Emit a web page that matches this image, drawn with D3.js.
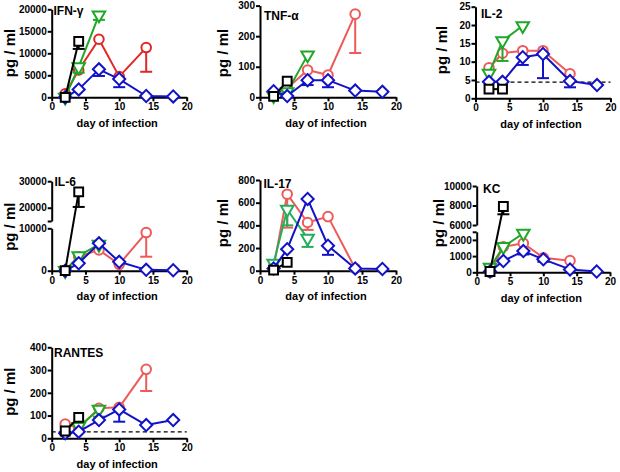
<!DOCTYPE html>
<html><head><meta charset="utf-8">
<script src="https://cdn.jsdelivr.net/npm/d3@7"></script>
<style>
body{margin:0;background:#fff;}
svg{display:block;font-family:Arial,"Liberation Sans",sans-serif;}
</style></head><body>
<svg id="chart" width="620" height="472"></svg>
<script>
// ---------- data ----------
const days = [2, 4, 7, 10, 14, 18];
const xTickValues = [0, 5, 10, 15, 20];
const xLabel = "day of infection";
const yLabel = "pg / ml";
const panelTitles = ["IFN-γ", "TNF-α", "IL-2", "IL-6", "IL-17", "KC", "RANTES"];

// IFN-γ
const ifnRed = [800, 6200, 13200, 4700, 11300, null];
const ifnRedLow = [null, null, null, null, 5800, null];
const ifnGreen = [0, 6900, 18700, null, null, null];
const ifnGreenLow = [null, 5600, 17600, null, null, null];
const ifnBlue = [0, 1800, 6350, 4150, 300, 200];
const ifnBlueLow = [null, null, 4850, 2300, null, null];
const ifnBlack = [0, 12700, null, null, null, null];
const ifnBlackLow = [null, 11000, null, null, null, null];
const ifnTicks = [0, 5000, 10000, 15000, 20000];

// TNF-α
const tnfRed = [10, 30, 89, 73, 272, null];
const tnfRedLow = [null, null, null, null, 145, null];
const tnfGreen = [5, 18, 138, null, null, null];
const tnfGreenLow = [null, null, null, null, null, null];
const tnfBlue = [20, 4, 56, 56, 22, 18];
const tnfBlueLow = [null, null, 40, 33, null, null];
const tnfBlack = [3, 53, null, null, null, null];
const tnfBlackLow = [null, null, null, null, null, null];
const tnfTicks = [0, 100, 200, 300];

// IL-2
const il2Red = [8.3, 12.3, 13, 13, 6.7, null];
const il2RedLow = [null, null, null, null, null, null];
const il2Green = [6.8, 15.7, 19.8, null, null, null];
const il2GreenLow = [null, 10.2, null, null, null, null];
const il2Blue = [4.5, 4.5, 11.2, 12.1, 4.7, 3.6];
const il2BlueLow = [null, null, 9.1, 5.5, 3.0, null];
const il2Black = [2.5, 2.5, null, null, null, null];
const il2BlackLow = [null, null, null, null, null, null];
const il2Ticks = [0, 5, 10, 15, 20, 25];
const il2Detection = 4.4;

// IL-6 (broken axis)
const il6Red = [0, 3300, 4900, 1500, 9000, null];
const il6RedLow = [null, null, null, null, 3300, null];
const il6Green = [0, 3500, 6200, null, null, null];
const il6GreenLow = [null, null, null, null, null, null];
const il6Blue = [0, 1750, 6450, 2100, 200, 100];
const il6BlueLow = [null, null, null, null, null, null];
const il6Black = [0, 26000, null, null, null, null];
const il6BlackLow = [null, 20300, null, null, null, null];
const il6TicksLow = [0, 10000];
const il6TicksHigh = [15000, 20000, 30000];
const il6BreakMarks = [15000];

// IL-17
const il17Red = [30, 675, 425, 477, 20, null];
const il17RedLow = [null, 380, 360, null, null, null];
const il17Green = [65, 540, 285, null, null, null];
const il17GreenLow = [null, 400, 210, null, null, null];
const il17Blue = [20, 190, 633, 220, 20, 15];
const il17BlueLow = [null, null, null, 140, null, null];
const il17Black = [5, 74, null, null, null, null];
const il17BlackLow = [null, null, null, null, null, null];
const il17Ticks = [0, 200, 400, 600, 800];

// KC (broken axis)
const kcRed = [0, 1580, 1790, 900, 720, null];
const kcRedLow = [null, null, null, null, null, null];
const kcGreen = [300, 1580, 2400, null, null, null];
const kcGreenLow = [null, null, null, null, null, null];
const kcBlue = [50, 700, 1310, 800, 180, 50];
const kcBlueLow = [null, null, 1100, 650, null, null];
const kcBlack = [50, 7900, null, null, null, null];
const kcBlackLow = [null, 7100, null, null, null, null];
const kcTicksLow = [0, 1000, 2000, 2500];
const kcTicksHigh = [6000, 8000, 10000];
const kcBreakMarks = [2500];

// RANTES
const rantesRed = [63, 45, 132, 136, 303, null];
const rantesRedLow = [null, null, null, null, 208, null];
const rantesGreen = [null, 51, 127, null, null, null];
const rantesGreenLow = [null, null, 95, null, null, null];
const rantesBlue = [22, 29, 80, 127, 58, 80];
const rantesBlueLow = [null, null, null, 73, null, null];
const rantesBlack = [32, 92, null, null, null, null];
const rantesBlackLow = [null, null, null, null, null, null];
const rantesTicks = [0, 100, 200, 300, 400];
const rantesDetection = 28;

// ---------- styles / layout ----------
const RED_DARK = "#e02828", RED = "#ee5a5a", GREEN = "#1fa828", GREEN2 = "#22ae5a", BLUE = "#1212c8", BLACK = "#000";
const shapes = {
  circle: d3.symbol().type(d3.symbolCircle).size(72),
  square: d3.symbol().type(d3.symbolSquare).size(78),
  diamond: d3.symbol().type(d3.symbolSquare).size(74),
  triangle: d3.symbol().type(d3.symbolTriangle).size(68)
};
const rot = {circle: 0, square: 0, diamond: 45, triangle: 180};

function mk(vals, lows, color, shape) { return {vals, lows, color, shape}; }

const panels = [
  {title: panelTitles[0], tx: 53.5, ty: 14.5, x0: 51.7, x1: 186.7, yb: 97.3, lx: 10, ly: 53,
   segs: [{d: [0, 20000], r: [97.3, 9.3], ticks: ifnTicks}], breaks: [],
   series: [mk(ifnRed, ifnRedLow, RED_DARK, "circle"), mk(ifnGreen, ifnGreenLow, GREEN, "triangle"),
            mk(ifnBlue, ifnBlueLow, BLUE, "diamond"), mk(ifnBlack, ifnBlackLow, BLACK, "square")]},
  {title: panelTitles[1], tx: 264, ty: 19.5, x0: 260, x1: 396, yb: 97.3, lx: 223, ly: 53,
   segs: [{d: [0, 300], r: [97.3, 5.6], ticks: tnfTicks}], breaks: [],
   series: [mk(tnfRed, tnfRedLow, RED, "circle"), mk(tnfGreen, tnfGreenLow, GREEN, "triangle"),
            mk(tnfBlue, tnfBlueLow, BLUE, "diamond"), mk(tnfBlack, tnfBlackLow, BLACK, "square")]},
  {title: panelTitles[2], tx: 481, ty: 18, x0: 475.5, x1: 610.5, yb: 98.3, lx: 441.7, ly: 50,
   segs: [{d: [0, 25], r: [98.3, 6.7], ticks: il2Ticks}], breaks: [], dashed: il2Detection,
   series: [mk(il2Red, il2RedLow, RED, "circle"), mk(il2Green, il2GreenLow, GREEN, "triangle"),
            mk(il2Blue, il2BlueLow, BLUE, "diamond"), mk(il2Black, il2BlackLow, BLACK, "square")]},
  {title: panelTitles[3], tx: 54.5, ty: 186, x0: 51.7, x1: 186.7, yb: 270.7, lx: 10, ly: 226.7,
   segs: [{d: [0, 10000], r: [270.7, 228.3], ticks: il6TicksLow}, {d: [15000, 30000], r: [221, 181.2], ticks: il6TicksHigh}], breaks: il6BreakMarks,
   series: [mk(il6Red, il6RedLow, RED, "circle"), mk(il6Green, il6GreenLow, GREEN, "triangle"),
            mk(il6Blue, il6BlueLow, BLUE, "diamond"), mk(il6Black, il6BlackLow, BLACK, "square")]},
  {title: panelTitles[4], tx: 263.5, ty: 187.5, x0: 260, x1: 396, yb: 270.7, lx: 223, ly: 223,
   segs: [{d: [0, 800], r: [270.7, 180], ticks: il17Ticks}], breaks: [],
   series: [mk(il17Red, il17RedLow, RED, "circle"), mk(il17Green, il17GreenLow, GREEN2, "triangle"),
            mk(il17Blue, il17BlueLow, BLUE, "diamond"), mk(il17Black, il17BlackLow, BLACK, "square")]},
  {title: panelTitles[5], tx: 483, ty: 192.5, x0: 476.7, x1: 610, yb: 272.3, lx: 438.3, ly: 223,
   segs: [{d: [0, 2500], r: [272.3, 231.8], ticks: kcTicksLow}, {d: [6000, 10000], r: [225, 186], ticks: kcTicksHigh}], breaks: kcBreakMarks,
   series: [mk(kcRed, kcRedLow, RED, "circle"), mk(kcGreen, kcGreenLow, GREEN, "triangle"),
            mk(kcBlue, kcBlueLow, BLUE, "diamond"), mk(kcBlack, kcBlackLow, BLACK, "square")]},
  {title: panelTitles[6], tx: 54, ty: 356.5, x0: 51.7, x1: 186.7, yb: 438.3, lx: 10, ly: 391.7,
   segs: [{d: [0, 400], r: [438.3, 347.3], ticks: rantesTicks}], breaks: [], dashed: rantesDetection,
   series: [mk(rantesRed, rantesRedLow, RED, "circle"), mk(rantesGreen, rantesGreenLow, GREEN, "triangle"),
            mk(rantesBlue, rantesBlueLow, BLUE, "diamond"), mk(rantesBlack, rantesBlackLow, BLACK, "square")]}
];

const svg = d3.select("#chart");

function styleAxis(g) {
  g.selectAll("path.domain").attr("stroke", "#000").attr("stroke-width", 2);
  g.selectAll(".tick line").attr("stroke", "#000").attr("stroke-width", 2);
  g.selectAll(".tick text").attr("fill", "#000").style("font-size", "10px").style("font-weight", "bold");
}

panels.forEach(p => {
  const g = svg.append("g");
  const x = d3.scaleLinear().domain([0, 20]).range([p.x0, p.x1]);
  const y = d3.scaleLinear()
    .domain(p.segs.flatMap(s => s.d))
    .range(p.segs.flatMap(s => s.r));

  if (p.dashed != null) {
    g.append("line").attr("x1", x(0)).attr("x2", x(20))
      .attr("y1", y(p.dashed)).attr("y2", y(p.dashed))
      .attr("stroke", "#000").attr("stroke-width", 1.3).attr("stroke-dasharray", "4,3");
  }

  const gx = g.append("g").attr("transform", `translate(0,${p.yb})`)
    .call(d3.axisBottom(x).tickValues(xTickValues).tickSize(4).tickSizeOuter(0).tickPadding(2).tickFormat(d3.format("d")));
  styleAxis(gx);

  p.segs.forEach(s => {
    const ys = d3.scaleLinear().domain(s.d).range(s.r);
    const gy = g.append("g").attr("transform", `translate(${p.x0},0)`)
      .call(d3.axisLeft(ys).tickValues(s.ticks).tickSize(4).tickSizeOuter(0).tickPadding(1)
        .tickFormat(v => p.breaks.includes(v) ? "" : d3.format("d")(v)));
    styleAxis(gy);
  });

  p.series.forEach(s => {
    const pts = days.map((d, i) => ({d, v: s.vals[i], lo: s.lows[i]}));
    const line = d3.line().defined(d => d.v != null).x(d => x(d.d)).y(d => y(d.v));
    g.append("path").datum(pts).attr("d", line)
      .attr("fill", "none").attr("stroke", s.color).attr("stroke-width", 2).attr("stroke-linejoin", "round");
    const errs = pts.filter(d => d.v != null && d.lo != null);
    g.selectAll(null).data(errs).enter().append("line")
      .attr("x1", d => x(d.d)).attr("x2", d => x(d.d)).attr("y1", d => y(d.v)).attr("y2", d => y(d.lo))
      .attr("stroke", s.color).attr("stroke-width", 2);
    g.selectAll(null).data(errs).enter().append("line")
      .attr("x1", d => x(d.d) - 6).attr("x2", d => x(d.d) + 6).attr("y1", d => y(d.lo)).attr("y2", d => y(d.lo))
      .attr("stroke", s.color).attr("stroke-width", 2);
    g.selectAll(null).data(pts.filter(d => d.v != null)).enter().append("path")
      .attr("d", shapes[s.shape])
      .attr("transform", d => `translate(${x(d.d)},${y(d.v)}) rotate(${rot[s.shape]})`)
      .attr("fill", "#fff").attr("stroke", s.color).attr("stroke-width", 2);
  });

  g.append("text").attr("x", p.tx).attr("y", p.ty).text(p.title)
    .style("font-size", "12px").style("font-weight", "bold").attr("fill", "#000");
  g.append("text").attr("x", (p.x0 + p.x1) / 2 - 2).attr("y", p.yb + 29.5).attr("text-anchor", "middle")
    .text(xLabel).style("font-size", "11px").style("font-weight", "bold").attr("fill", "#000");
  g.append("text").attr("transform", `translate(${p.lx},${p.ly}) rotate(-90)`).attr("text-anchor", "middle")
    .attr("dy", "0.35em").text(yLabel).style("font-size", "15px").style("font-weight", "bold").attr("fill", "#000");
});
</script>
</body></html>
